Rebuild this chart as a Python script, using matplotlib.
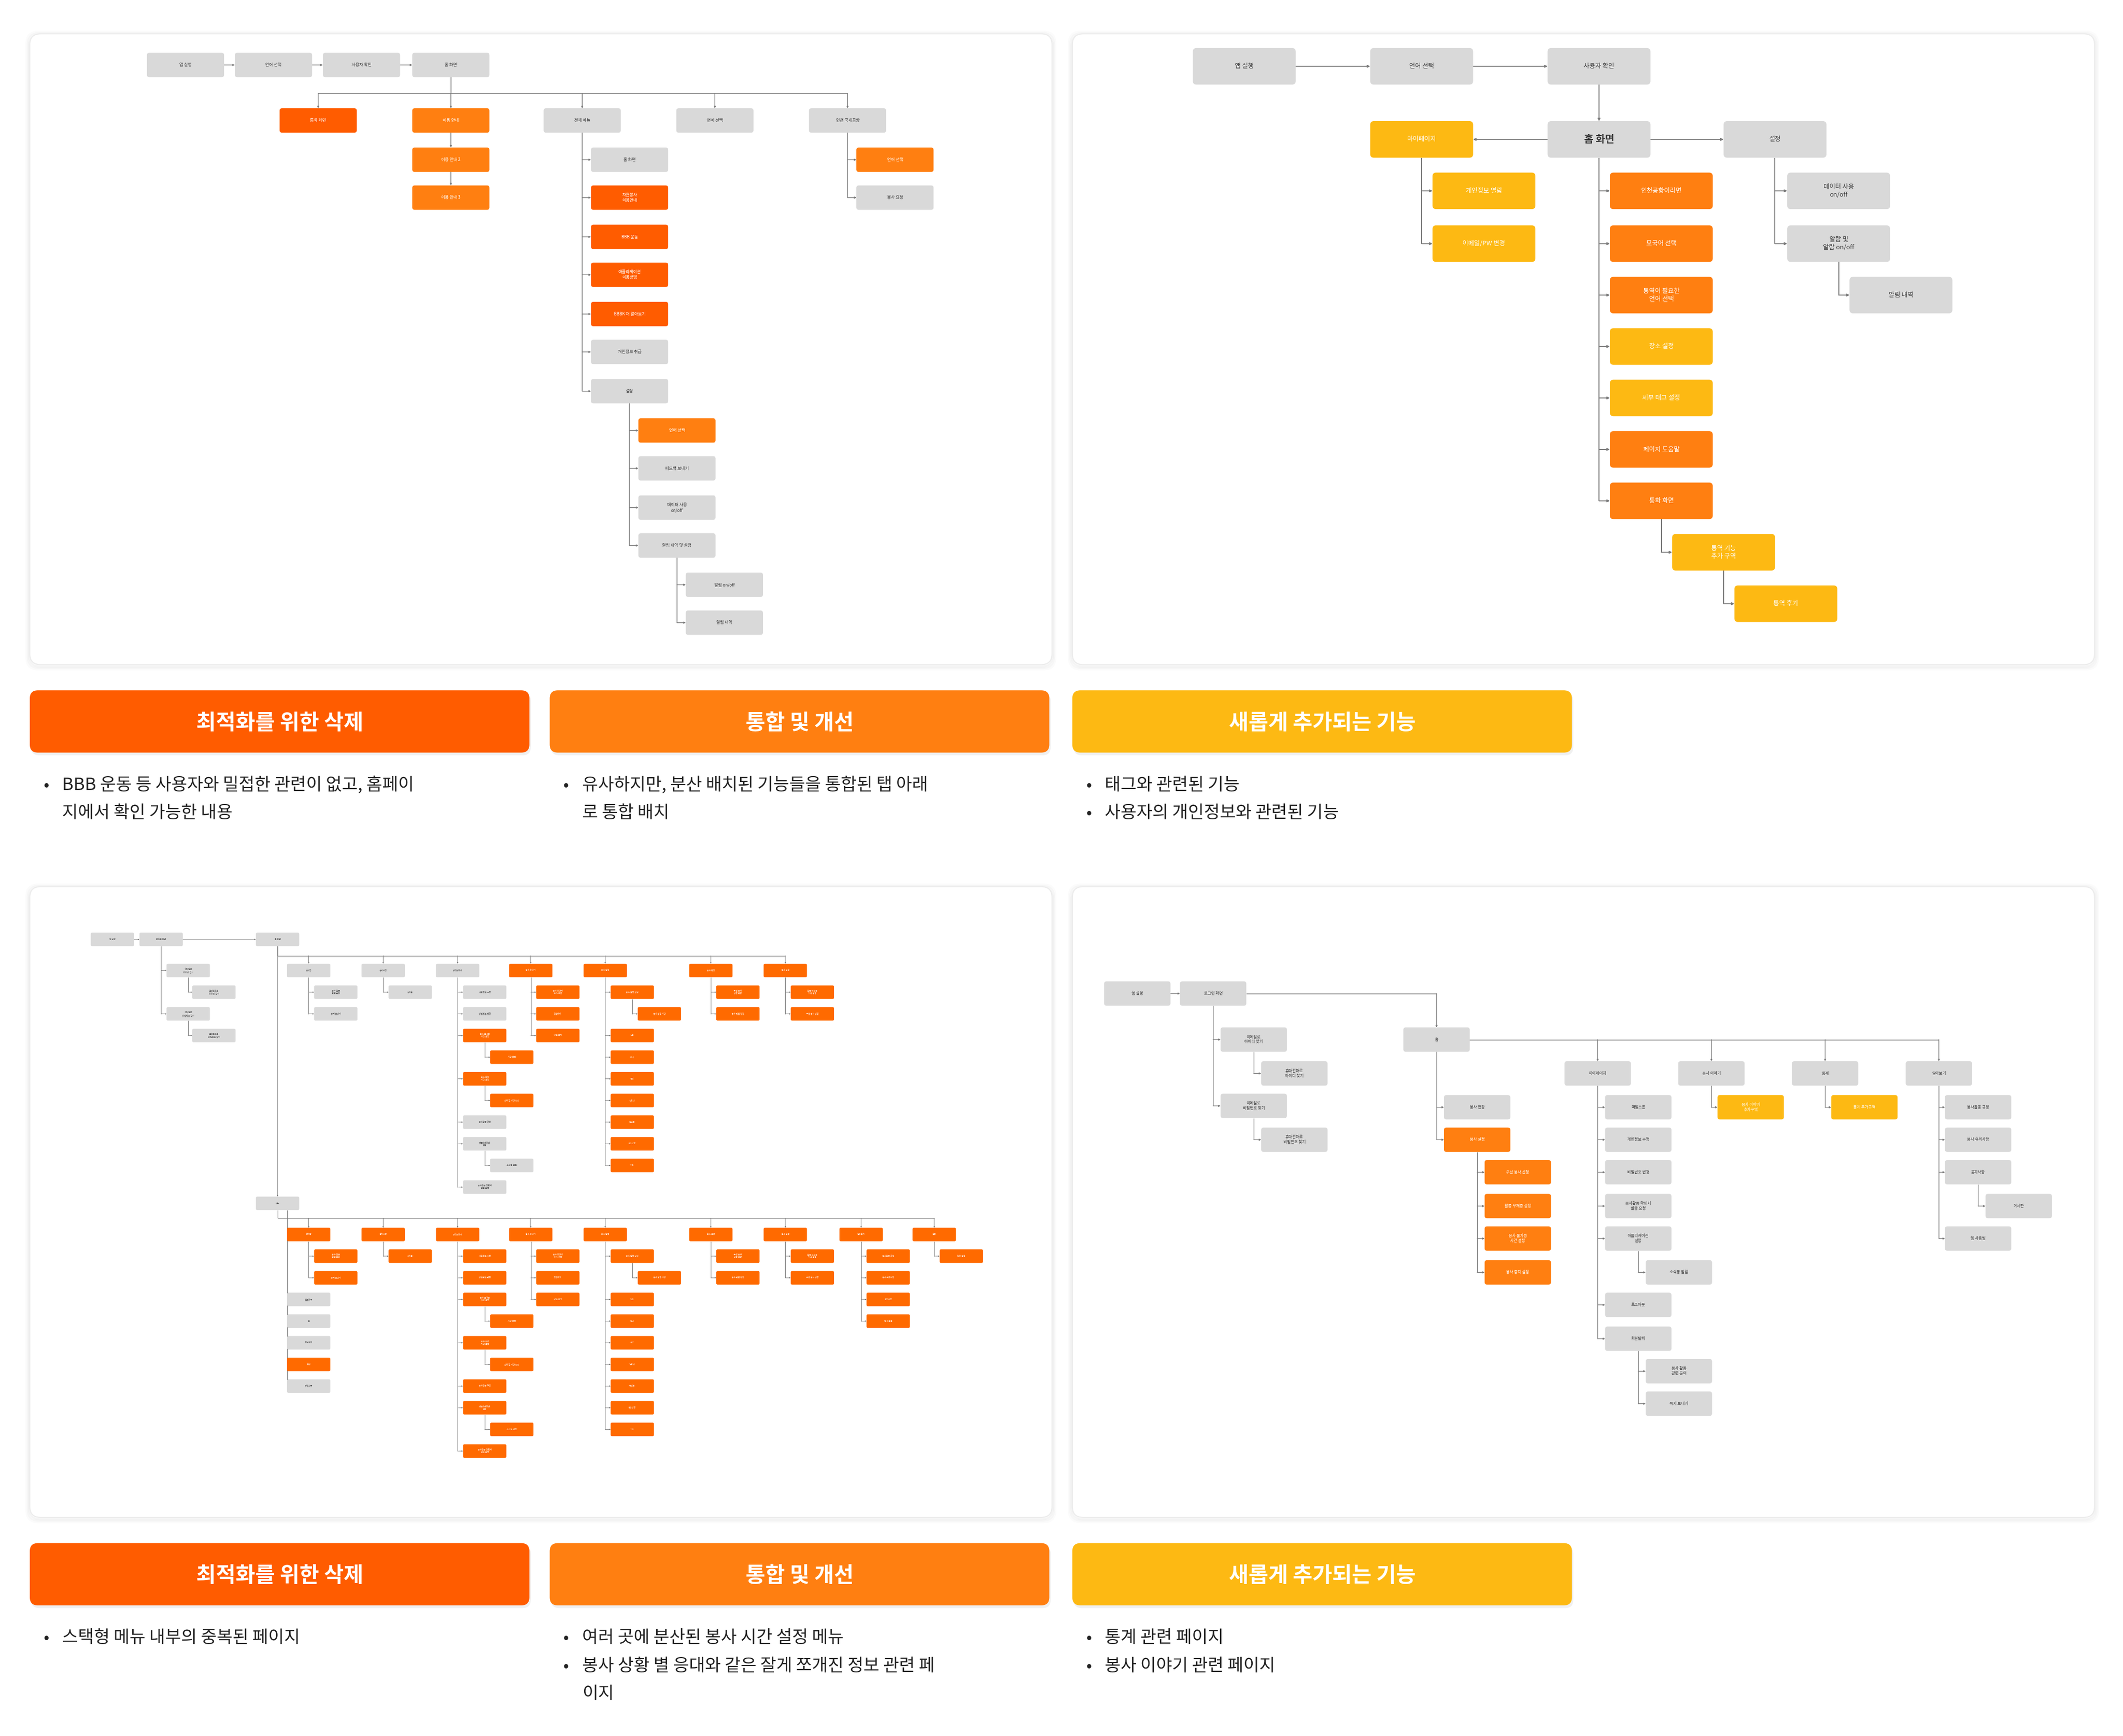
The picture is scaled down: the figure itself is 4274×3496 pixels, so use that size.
import matplotlib
matplotlib.use("Agg")
import matplotlib.pyplot as plt
from matplotlib.patches import FancyBboxPatch

plt.rcParams['font.family'] = ['Noto Sans CJK KR', 'DejaVu Sans']

COL = {'g': '#D9D9D9', 'r': '#FF5C00', 'o': '#FF7F11', 'y': '#FDB913', 'b': '#FF6A00'}
LINE = '#7a7a7a'

# ---------------- data ----------------
banner_titles = ['최적화를 위한 삭제', '통합 및 개선', '새롭게 추가되는 기능']
banner_keys = ['r', 'o', 'y']
top_bullets = [
    ['BBB 운동 등 사용자와 밀접한 관련이 없고, 홈페이', '지에서 확인 가능한 내용'],
    ['유사하지만, 분산 배치된 기능들을 통합된 탭 아래', '로 통합 배치'],
    ['태그와 관련된 기능', '사용자의 개인정보와 관련된 기능'],
]
top_bullet_starts = [[True, False], [True, False], [True, True]]
bottom_bullets = [
    ['스택형 메뉴 내부의 중복된 페이지'],
    ['여러 곳에 분산된 봉사 시간 설정 메뉴', '봉사 상황 별 응대와 같은 잘게 쪼개진 정보 관련 페', '이지'],
    ['통계 관련 페이지', '봉사 이야기 관련 페이지'],
]
bottom_bullet_starts = [[True], [True, True, False], [True, True]]

# Top-left tree: id -> (label, x, y, colour)
TL = {
    'a': ('앱 실행', 137, 48, 'g'), 'b': ('언어 선택', 202, 48, 'g'),
    'c': ('사용자 확인', 267, 48, 'g'), 'h': ('홈 화면', 333, 48, 'g'),
    't1': ('통화 화면', 235, 89, 'r'), 't2': ('이용 안내', 333, 89, 'o'),
    't3': ('전체 메뉴', 430, 89, 'g'), 't4': ('언어 선택', 528, 89, 'g'),
    't5': ('인천 국제공항', 626, 89, 'g'),
    'u2': ('이용 안내 2', 333, 118, 'o'), 'u3': ('이용 안내 3', 333, 146, 'o'),
    'm1': ('홈 화면', 465, 118, 'g'), 'm2': ('자원봉사\n이용안내', 465, 146, 'r'),
    'm3': ('BBB 운동', 465, 175, 'r'), 'm4': ('애플리케이션\n이용방법', 465, 203, 'r'),
    'm5': ('BBBK 더 알아보기', 465, 232, 'r'), 'm6': ('개인정보 취급', 465, 260, 'g'),
    'm7': ('설정', 465, 289, 'g'),
    's1': ('언어 선택', 500, 318, 'o'), 's2': ('피드백 보내기', 500, 346, 'g'),
    's3': ('데이터 사용\non/off', 500, 375, 'g'), 's4': ('알림 내역 및 설정', 500, 403, 'g'),
    'n1': ('알림 on/off', 535, 432, 'g'), 'n2': ('알림 내역', 535, 460, 'g'),
    'i1': ('언어 선택', 661, 118, 'o'), 'i2': ('봉사 요청', 661, 146, 'g'),
}
TL_chain = [['a', 'b', 'c', 'h']]
TL_bus = [('h', ['t1', 't2', 't3', 't4', 't5'], 69)]
TL_down = [('t2', ['u2', 'u3'])]
TL_side = [('t3', ['m1', 'm2', 'm3', 'm4', 'm5', 'm6', 'm7']), ('m7', ['s1', 's2', 's3', 's4']),
           ('s4', ['n1', 'n2']), ('t5', ['i1', 'i2'])]

# Top-right tree
TR = {
    'a': ('앱 실행', 919, 49, 'g'), 'b': ('언어 선택', 1050, 49, 'g'), 'c': ('사용자 확인', 1181, 49, 'g'),
    'h': ('홈 화면', 1181, 103, 'g'), 'my': ('마이페이지', 1050, 103, 'y'), 'st': ('설정', 1311, 103, 'g'),
    'p1': ('개인정보 열람', 1096, 141, 'y'), 'p2': ('이메일/PW 변경', 1096, 180, 'y'),
    'h1': ('인천공항이라면', 1227, 141, 'o'), 'h2': ('모국어 선택', 1227, 180, 'o'),
    'h3': ('통역이 필요한\n언어 선택', 1227, 218, 'o'), 'h4': ('장소 설정', 1227, 256, 'y'),
    'h5': ('세부 태그 설정', 1227, 294, 'y'), 'h6': ('페이지 도움말', 1227, 332, 'o'),
    'h7': ('통화 화면', 1227, 370, 'o'), 'c1': ('통역 기능\n추가 구역', 1273, 408, 'y'),
    'c2': ('통역 후기', 1319, 446, 'y'),
    'e1': ('데이터 사용\non/off', 1358, 141, 'g'), 'e2': ('알람 및\n알람 on/off', 1358, 180, 'g'),
    'e3': ('알림 내역', 1404, 218, 'g'),
}
TR_chain = [['a', 'b', 'c']]
TR_down = [('c', ['h'])]
TR_lr = [('h', 'my'), ('h', 'st')]
TR_side = [('my', ['p1', 'p2']), ('h', ['h1', 'h2', 'h3', 'h4', 'h5', 'h6', 'h7']),
           ('h7', ['c1']), ('c1', ['c2']), ('st', ['e1', 'e2']), ('e2', ['e3'])]

# Bottom-right tree
BR = {
    'a': ('앱 실행', 840, 734, 'g'), 'l': ('로그인 화면', 896, 734, 'g'),
    'l1': ('이메일로\n아이디 찾기', 926, 768, 'g'), 'l2': ('휴대전화로\n아이디 찾기', 956, 793, 'g'),
    'l3': ('이메일로\n비밀번호 찾기', 926, 817, 'g'), 'l4': ('휴대전화로\n비밀번호 찾기', 956, 842, 'g'),
    'h': ('홈', 1061, 768, 'g'),
    'k1': ('마이페이지', 1180, 793, 'g'), 'k2': ('봉사 이야기', 1264, 793, 'g'),
    'k3': ('통계', 1348, 793, 'g'), 'k4': ('알아보기', 1432, 793, 'g'),
    'v1': ('봉사 현황', 1091, 818, 'g'), 'v2': ('봉사 설정', 1091, 842, 'o'),
    'w1': ('우선 봉사 신청', 1121, 866, 'o'), 'w2': ('활동 부재중 설정', 1121, 891, 'o'),
    'w3': ('봉사 불가능\n시간 설정', 1121, 915, 'o'), 'w4': ('봉사 중지 설정', 1121, 940, 'o'),
    'q1': ('마일스톤', 1210, 818, 'g'), 'q2': ('개인정보 수정', 1210, 842, 'g'),
    'q3': ('비밀번호 변경', 1210, 866, 'g'), 'q4': ('봉사활동 확인서\n발급 요청', 1210, 891, 'g'),
    'q5': ('애플리케이션\n설정', 1210, 915, 'g'), 'q6': ('로그아웃', 1210, 964, 'g'),
    'q7': ('회원탈퇴', 1210, 989, 'g'), 'r1': ('소식통 알림', 1240, 940, 'g'),
    'r2': ('봉사 활동\n관련 문의', 1240, 1013, 'g'), 'r3': ('쪽지 보내기', 1240, 1037, 'g'),
    'x1': ('봉사 이야기\n추가구역', 1293, 818, 'y'), 'x2': ('통계 추가구역', 1377, 818, 'y'),
    'z1': ('봉사활동 규정', 1461, 818, 'g'), 'z2': ('봉사 유의사항', 1461, 842, 'g'),
    'z3': ('공지사항', 1461, 866, 'g'), 'z4': ('게시판', 1491, 891, 'g'), 'z5': ('앱 사용법', 1461, 915, 'g'),
}
BR_chain = [['a', 'l']]
BR_elbow = [('l', 'h')]
BR_bus = [('h', ['k1', 'k2', 'k3', 'k4'], 768)]
BR_side = [('l', ['l1', 'l3']), ('l1', ['l2']), ('l3', ['l4']), ('h', ['v1', 'v2']),
           ('v2', ['w1', 'w2', 'w3', 'w4']), ('k1', ['q1', 'q2', 'q3', 'q4', 'q5', 'q6', 'q7']),
           ('q5', ['r1']), ('q7', ['r2', 'r3']), ('k2', ['x1']), ('k3', ['x2']),
           ('k4', ['z1', 'z2', 'z3', 'z5']), ('z3', ['z4'])]

# Bottom-left tree (dense overview)
BL = {
    'a': ('앱 실행', 83, 694, 'g'), 'l': ('로그인 화면', 119, 694, 'g'), 'h': ('홈 화면', 205, 694, 'g'),
    'l1': ('이메일로\n아이디 찾기', 139, 717, 'g'), 'l2': ('휴대전화로\n아이디 찾기', 158, 733, 'g'),
    'l3': ('이메일로\n비밀번호 찾기', 139, 749, 'g'), 'l4': ('휴대전화로\n비밀번호 찾기', 158, 765, 'g'),
    'A1': ('쪽지함', 228, 717, 'g'), 'A2': ('공지사항', 283, 717, 'g'), 'A3': ('마이페이지', 338, 717, 'g'),
    'A4': ('봉사 이야기', 392, 717, 'b'), 'A5': ('봉사 일정', 447, 717, 'b'),
    'A6': ('봉사 현황', 525, 717, 'b'), 'A7': ('봉사 설정', 580, 717, 'b'),
    'a11': ('봉사 활동\n관련 문의', 248, 733, 'g'), 'a12': ('쪽지 보내기', 248, 749, 'g'),
    'a21': ('게시물', 303, 733, 'g'),
    'a31': ('개인정보 수정', 358, 733, 'g'), 'a32': ('비밀번호 변경', 358, 749, 'g'),
    'a33': ('봉사 불가능\n시간 설정', 358, 765, 'b'), 'a34': ('시간 선택', 378, 781, 'b'),
    'a35': ('봉사 중지\n기간 설정', 358, 797, 'b'), 'a36': ('날짜 및 기간 선택', 378, 813, 'b'),
    'a37': ('봉사활동 규정', 358, 829, 'g'), 'a38': ('애플리케이션\n설정', 358, 845, 'g'),
    'a39': ('소식통 알림', 378, 861, 'g'), 'a3a': ('봉사활동 확인서\n발급 요청', 358, 877, 'g'),
    'a41': ('봉사 이야기\n추가 구역', 412, 733, 'b'), 'a42': ('작성하기', 412, 749, 'b'),
    'a43': ('댓글 보기', 412, 765, 'b'),
    'a51': ('봉사 일정 상세', 467, 733, 'b'), 'a52': ('봉사 일정 시간', 487, 749, 'b'),
    'a53': ('긴급', 467, 765, 'b'), 'a54': ('안내', 467, 781, 'b'), 'a55': ('통역', 467, 797, 'b'),
    'a56': ('길안내', 467, 813, 'b'), 'a57': ('분실물', 467, 829, 'b'), 'a58': ('응급상황', 467, 845, 'b'),
    'a59': ('기타', 467, 861, 'b'),
    'a61': ('우선 봉사\n신청 현황', 545, 733, 'b'), 'a62': ('봉사 완료 현황', 545, 749, 'b'),
    'a71': ('활동 부재중\n기간 설정', 600, 733, 'b'), 'a72': ('우선 봉사 신청', 600, 749, 'b'),
    'M': ('메뉴', 205, 889, 'g'),
    'B1': ('쪽지함', 228, 912, 'b'), 'B2': ('공지사항', 283, 912, 'b'), 'B3': ('마이페이지', 338, 912, 'b'),
    'B4': ('봉사 이야기', 392, 912, 'b'), 'B5': ('봉사 일정', 447, 912, 'b'), 'B6': ('봉사 현황', 525, 912, 'b'),
    'B7': ('봉사 설정', 580, 912, 'b'), 'B8': ('알아보기', 636, 912, 'b'), 'B9': ('설정', 690, 912, 'b'),
    'b11': ('봉사 활동\n관련 문의', 248, 928, 'b'), 'b12': ('쪽지 보내기', 248, 944, 'b'),
    'b13': ('로그아웃', 228, 960, 'g'), 'b14': ('홈', 228, 976, 'g'), 'b15': ('회원탈퇴', 228, 992, 'g'),
    'b16': ('통계', 228, 1008, 'b'), 'b17': ('마일스톤', 228, 1024, 'g'),
    'b21': ('게시물', 303, 928, 'b'),
    'b31': ('개인정보 수정', 358, 928, 'b'), 'b32': ('비밀번호 변경', 358, 944, 'b'),
    'b33': ('봉사 불가능\n시간 설정', 358, 960, 'b'), 'b34': ('시간 선택', 378, 976, 'b'),
    'b35': ('봉사 중지\n기간 설정', 358, 992, 'b'), 'b36': ('날짜 및 기간 선택', 378, 1008, 'b'),
    'b37': ('봉사활동 규정', 358, 1024, 'b'), 'b38': ('애플리케이션\n설정', 358, 1040, 'b'),
    'b39': ('소식통 알림', 378, 1056, 'b'), 'b3a': ('봉사활동 확인서\n발급 요청', 358, 1072, 'b'),
    'b41': ('봉사 이야기\n추가 구역', 412, 928, 'b'), 'b42': ('작성하기', 412, 944, 'b'),
    'b43': ('댓글 보기', 412, 960, 'b'),
    'b51': ('봉사 일정 상세', 467, 928, 'b'), 'b52': ('봉사 일정 시간', 487, 944, 'b'),
    'b53': ('긴급', 467, 960, 'b'), 'b54': ('안내', 467, 976, 'b'), 'b55': ('통역', 467, 992, 'b'),
    'b56': ('길안내', 467, 1008, 'b'), 'b57': ('분실물', 467, 1024, 'b'), 'b58': ('응급상황', 467, 1040, 'b'),
    'b59': ('기타', 467, 1056, 'b'),
    'b61': ('우선 봉사\n신청 현황', 545, 928, 'b'), 'b62': ('봉사 완료 현황', 545, 944, 'b'),
    'b71': ('활동 부재중\n기간 설정', 600, 928, 'b'), 'b72': ('우선 봉사 신청', 600, 944, 'b'),
    'b81': ('봉사활동 규정', 656, 928, 'b'), 'b82': ('봉사 유의사항', 656, 944, 'b'),
    'b83': ('공지사항', 656, 960, 'b'), 'b84': ('앱 사용법', 656, 976, 'b'),
    'b91': ('언어 설정', 710, 928, 'b'),
}
BL_chain = [['a', 'l']]
BL_right = [('l', 'h')]
BL_down = [('h', ['M'])]
BL_bus = [('h', ['A1', 'A2', 'A3', 'A4', 'A5', 'A6', 'A7'], 706),
          ('M', ['B1', 'B2', 'B3', 'B4', 'B5', 'B6', 'B7', 'B8', 'B9'], 900)]
BL_side = [('l', ['l1', 'l3']), ('l1', ['l2']), ('l3', ['l4']),
           ('A1', ['a11', 'a12']), ('A2', ['a21']),
           ('A3', ['a31', 'a32', 'a33', 'a35', 'a37', 'a38', 'a3a']), ('a33', ['a34']), ('a35', ['a36']),
           ('a38', ['a39']), ('A4', ['a41', 'a42', 'a43']),
           ('A5', ['a51', 'a53', 'a54', 'a55', 'a56', 'a57', 'a58', 'a59']), ('a51', ['a52']),
           ('A6', ['a61', 'a62']), ('A7', ['a71', 'a72']),
           ('B1', ['b11', 'b12']), ('B2', ['b21']),
           ('B3', ['b31', 'b32', 'b33', 'b35', 'b37', 'b38', 'b3a']), ('b33', ['b34']), ('b35', ['b36']),
           ('b38', ['b39']), ('B4', ['b41', 'b42', 'b43']),
           ('B5', ['b51', 'b53', 'b54', 'b55', 'b56', 'b57', 'b58', 'b59']), ('b51', ['b52']),
           ('B6', ['b61', 'b62']), ('B7', ['b71', 'b72']), ('B8', ['b81', 'b82', 'b83', 'b84']),
           ('B9', ['b91'])]
BL_left = [('M', ['b13', 'b14', 'b15', 'b16', 'b17'])]

# ---------------- drawing ----------------
fig = plt.figure(figsize=(21.37, 17.48), dpi=200)
ax = fig.add_axes([0, 0, 1, 1])
ax.set_xlim(0, 1568)
ax.set_ylim(1282.5, 0)
ax.axis('off')

def panel(x0, y0, x1, y1):
    for i, a in enumerate([0.025, 0.02, 0.015]):
        ax.add_patch(FancyBboxPatch((x0 - i, y0 - i + 1), x1 - x0 + 2 * i, y1 - y0 + 2 * i,
                                    boxstyle='round,pad=0,rounding_size=8', fc='none',
                                    ec=(0, 0, 0, a), lw=2.5, zorder=0))
    ax.add_patch(FancyBboxPatch((x0, y0), x1 - x0, y1 - y0, boxstyle='round,pad=0,rounding_size=8',
                                fc='white', ec='#ececec', lw=0.8, zorder=1))

for (x0, y0) in [(22, 25), (792, 25), (22, 655), (792, 655)]:
    panel(x0, y0, x0 + 755, y0 + 466)

def arrow(x0, y0, x1, y1, ms=3, lw=0.6):
    ax.annotate('', xy=(x1, y1), xytext=(x0, y0),
                arrowprops=dict(arrowstyle='-|>', mutation_scale=ms, lw=lw, color=LINE,
                                shrinkA=0, shrinkB=0), zorder=2)

def seg(xs, ys, lw=0.6):
    ax.plot(xs, ys, color=LINE, lw=lw, zorder=2, solid_capstyle='butt')

def draw_tree(nodes, w, h, fs, chain=(), bus=(), down=(), side=(), lr=(), elbow=(), right=(),
              left=(), lw=0.6, ms=3, big=None):
    P = lambda k: nodes[k][1:3]
    for c in chain:
        for p, q in zip(c[:-1], c[1:]):
            (x0, y0), (x1, y1) = P(p), P(q)
            arrow(x0 + w / 2, y0, x1 - w / 2, y1, ms, lw)
    for p, q in right:
        (x0, y0), (x1, y1) = P(p), P(q)
        arrow(x0 + w / 2, y0, x1 - w / 2, y1, ms, lw)
    for p, kids, yb in bus:
        px, py = P(p)
        xs = [P(k)[0] for k in kids] + [px]
        seg([px, px], [py + h / 2, yb], lw)
        seg([min(xs), max(xs)], [yb, yb], lw)
        for k in kids:
            kx, ky = P(k)
            if kx == px:
                arrow(kx, yb - 0.01, kx, ky - h / 2, ms, lw)
            else:
                seg([kx, kx], [yb, yb + 0.01], lw)
                arrow(kx, yb, kx, ky - h / 2, ms, lw)
    for p, kids in down:
        px, py = P(p)
        for k in kids:
            kx, ky = P(k)
            arrow(px, py + h / 2, kx, ky - h / 2, ms, lw)
            px, py = kx, ky
    for p, kids in side:
        px, py = P(p)
        last = max(P(k)[1] for k in kids)
        seg([px, px], [py + h / 2, last], lw)
        for k in kids:
            kx, ky = P(k)
            arrow(px, ky, kx - w / 2, ky, ms, lw)
    for p, kids in left:
        px, py = P(p)
        tx = px + 7
        last = max(P(k)[1] for k in kids)
        seg([tx, tx], [py + h / 2, last], lw)
        for k in kids:
            kx, ky = P(k)
            arrow(tx, ky, kx - w / 2, ky, ms, lw)
    for p, q in lr:
        (x0, y0), (x1, y1) = P(p), P(q)
        if x1 > x0:
            arrow(x0 + w / 2, y0, x1 - w / 2, y1, ms, lw)
        else:
            arrow(x0 - w / 2, y0, x1 + w / 2, y1, ms, lw)
    for p, q in elbow:
        (x0, y0), (x1, y1) = P(p), P(q)
        seg([x0 + w / 2, x1], [y0, y0], lw)
        arrow(x1, y0, x1, y1 - h / 2, ms, lw)
    for k, (lab, x, y, c) in nodes.items():
        ax.add_patch(FancyBboxPatch((x - w / 2, y - h / 2), w, h,
                                    boxstyle='round,pad=0,rounding_size=%g' % (h * 0.1),
                                    fc=COL[c], ec='none', zorder=3))
        tc = '#3a3a3a' if c == 'g' else 'white'
        f, wt = fs, 'normal'
        if big is not None and k == big:
            f, wt = fs * 1.6, 'bold'
        ax.text(x, y, lab, ha='center', va='center', fontsize=f, color=tc, zorder=4,
                fontweight=wt, linespacing=1.3)

draw_tree(TL, 57, 18, 3.0, chain=TL_chain, bus=TL_bus, down=TL_down, side=TL_side, lw=0.55, ms=2.5)
draw_tree(TR, 76, 27, 4.6, chain=TR_chain, down=TR_down, lr=TR_lr, side=TR_side, lw=0.7, ms=3.5, big='h')
draw_tree(BR, 49, 18, 2.8, chain=BR_chain, elbow=BR_elbow, bus=BR_bus, side=BR_side, lw=0.5, ms=2.5)
draw_tree(BL, 32, 10, 1.5, chain=BL_chain, right=BL_right, down=BL_down, bus=BL_bus, side=BL_side,
          left=BL_left, lw=0.35, ms=1.5)

# banners and bullets
banner_x = [22, 406, 792]
for row, (by, bullets, starts) in enumerate([(510, top_bullets, top_bullet_starts),
                                              (1140, bottom_bullets, bottom_bullet_starts)]):
    for i in range(3):
        x0 = banner_x[i]
        ax.add_patch(FancyBboxPatch((x0 + 1, by + 2), 369, 46, boxstyle='round,pad=0,rounding_size=6',
                                    fc=(0, 0, 0, 0.06), ec='none', zorder=1))
        ax.add_patch(FancyBboxPatch((x0, by), 369, 46, boxstyle='round,pad=0,rounding_size=6',
                                    fc=COL[banner_keys[i]], ec='none', zorder=2))
        ax.text(x0 + 184.5, by + 24, banner_titles[i], ha='center', va='center', fontsize=15.5,
                color='white', fontweight='bold', zorder=3)
        for j, (line, st) in enumerate(zip(bullets[i], starts[i])):
            yy = by + 70 + j * 20.8
            if st:
                ax.text(x0 + 10, yy, '•', ha='left', va='center', fontsize=12, color='#222')
            ax.text(x0 + 24, yy, line, ha='left', va='center', fontsize=12.5, color='#222')

fig.savefig('out.png', dpi=200, facecolor='white')
